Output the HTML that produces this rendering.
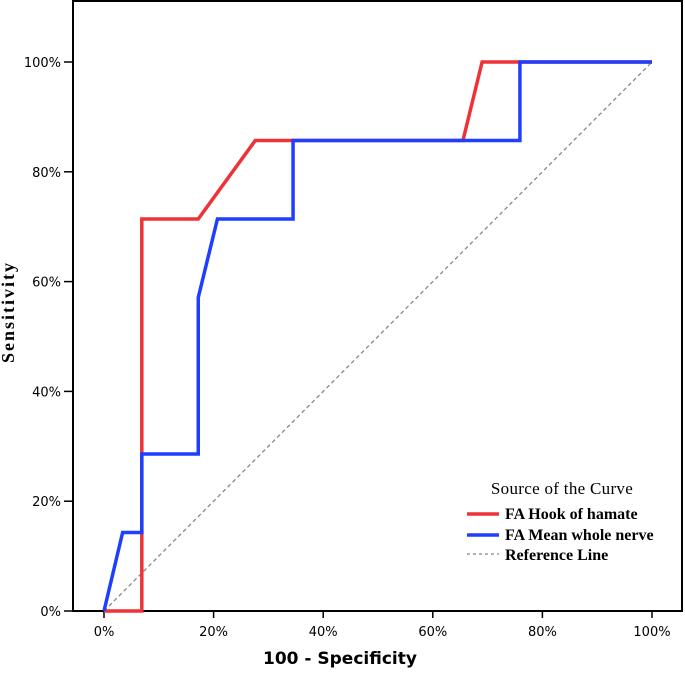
<!DOCTYPE html>
<html><head><meta charset="utf-8"><style>
body{margin:0;background:#fff;}
svg text{font-family:"DejaVu Sans","Liberation Sans",sans-serif;}
</style></head><body>
<svg width="685" height="672" viewBox="0 0 685 672">
<rect x="73" y="1" width="609" height="610" fill="none" stroke="#000" stroke-width="2"/>
<g id="axes"></g>
<g id="series"></g>
<text x="340" y="664" text-anchor="middle" font-size="17" font-weight="bold" font-family="Liberation Sans">100 - Specificity</text>
<text transform="translate(14,312) rotate(-90)" text-anchor="middle" font-size="18" font-weight="bold" letter-spacing="2" style="font-family:'Liberation Serif',serif">Sensitivity</text>
<g>
<text x="562" y="494" text-anchor="middle" font-size="17" letter-spacing="0.3" style="font-family:'Liberation Serif',serif">Source of the Curve</text>
<line x1="467" y1="514" x2="499" y2="514" stroke="#ee3338" stroke-width="3.5"/>
<text x="505" y="519" font-size="16" font-weight="bold" style="font-family:'Liberation Serif',serif">FA Hook of hamate</text>
<line x1="467" y1="535" x2="499" y2="535" stroke="#1f3fff" stroke-width="3.5"/>
<text x="505" y="540" font-size="16" font-weight="bold" style="font-family:'Liberation Serif',serif">FA Mean whole nerve</text>
<line x1="467" y1="554" x2="499" y2="554" stroke="#999" stroke-width="1.5" stroke-dasharray="3,3"/>
<text x="505" y="560" font-size="16" font-weight="bold" style="font-family:'Liberation Serif',serif">Reference Line</text>
</g>
</svg>
<script>
const xTicks=[0,20,40,60,80,100];
const yTicks=[0,20,40,60,80,100];
const tickLabels=["0%","20%","40%","60%","80%","100%"];
const hookX=[0,6.9,6.9,17.2,27.6,65.5,69,100];
const hookY=[0,0,71.4,71.4,85.7,85.7,100,100];
const meanX=[0,3.4,6.9,6.9,17.2,17.2,20.7,34.5,34.5,75.9,75.9,100];
const meanY=[0,14.3,14.3,28.6,28.6,57.1,71.4,71.4,85.7,85.7,100,100];
const refX=[0,100];
const refY=[0,100];
const sx=v=>104+v*5.48;
const sy=v=>611-v*5.49;
const NS="http://www.w3.org/2000/svg";
const axes=document.getElementById('axes');
xTicks.forEach((t,i)=>{
 const l=document.createElementNS(NS,'line');
 l.setAttribute('x1',sx(t));l.setAttribute('x2',sx(t));l.setAttribute('y1',611);l.setAttribute('y2',618);l.setAttribute('stroke','#000');l.setAttribute('stroke-width','1.5');
 
 
 axes.appendChild(l);
 const tx=document.createElementNS(NS,'text');
 tx.setAttribute('x',sx(t));tx.setAttribute('y',636);tx.setAttribute('text-anchor','middle');tx.setAttribute('font-size','13');
 tx.textContent=tickLabels[i];
 
 
 axes.appendChild(tx);
});
yTicks.forEach((t,i)=>{
 const l=document.createElementNS(NS,'line');
 l.setAttribute('x1',64);l.setAttribute('x2',73);l.setAttribute('y1',sy(t));l.setAttribute('y2',sy(t));l.setAttribute('stroke','#000');l.setAttribute('stroke-width','1.5');
 
 
 axes.appendChild(l);
 const tx=document.createElementNS(NS,'text');
 tx.setAttribute('x',61);tx.setAttribute('y',sy(t)+5);tx.setAttribute('text-anchor','end');tx.setAttribute('font-size','13');
 tx.textContent=tickLabels[i];
 
 
 axes.appendChild(tx);
});
const series=document.getElementById('series');
function line(xs,ys,color,w,dash,name){
 const p=document.createElementNS(NS,'polyline');
 p.setAttribute('points',xs.map((x,i)=>sx(x)+','+sy(ys[i])).join(' '));
 p.setAttribute('fill','none');p.setAttribute('stroke',color);p.setAttribute('stroke-width',w);
 if(dash)p.setAttribute('stroke-dasharray',dash);
 
 
 series.appendChild(p);
}
line(refX,refY,'#888',1.3,'4,3','reference-line');
line(hookX,hookY,'#ee3338',3.5,null,'hook-of-hamate-curve');
line(meanX,meanY,'#1f3fff',3.5,null,'mean-whole-nerve-curve');
</script>
</body></html>
